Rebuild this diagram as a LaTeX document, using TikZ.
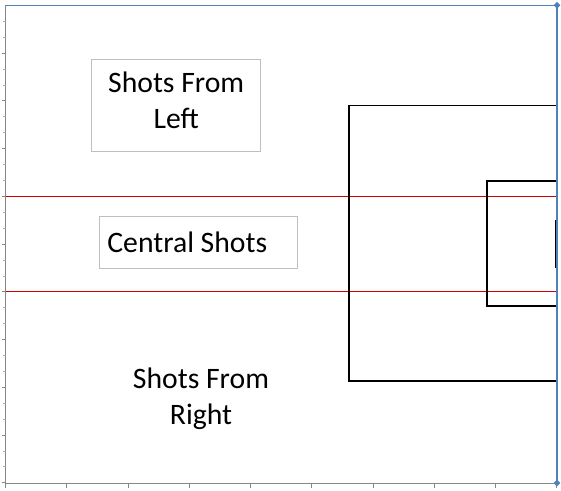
\documentclass[tikz,border=0pt]{standalone}
\usepackage{fontspec}
\setmainfont{Carlito}
\usepackage{tikz}
\usetikzlibrary{shapes.geometric}
\definecolor{axisgray}{HTML}{868686}
\definecolor{serieblue}{HTML}{4F81BD}
\definecolor{zonered}{HTML}{D00000}
\definecolor{boxgray}{HTML}{BFBFBF}
\tikzset{
  axisline/.style={draw=axisgray, line width=.9pt},
  minortic/.style={draw=axisgray!70, line width=.6pt},
  borderline/.style={draw=serieblue, line width=1.4pt},
  zoneline/.style={draw=zonered, line width=1.2pt},
  boxline/.style={draw=black, line width=2pt},
  goalline/.style={draw=black, line width=3pt},
  marker/.style={diamond, fill=serieblue, inner sep=0pt, minimum size=7pt},
  label/.style={font=\fontsize{29.8pt}{36pt}\selectfont, align=center, inner sep=0pt},
  textbox/.style={label, draw=boxgray, line width=.9pt}
}
\begin{document}
\begin{tikzpicture}[x=1bp,y=-1bp]
  \useasboundingbox (0,0) rectangle (561,491);

  % axes and ticks
  \draw[axisline] (5.5,5.3) -- (5.5,483) -- (557,483);
  \foreach \k in {1,...,10}
    \draw[axisline] (1.5,{5.3+47.74*\k}) -- (5.5,{5.3+47.74*\k});
  \foreach \k in {0,...,9} {
    \draw[minortic] (2.8,{5.3+47.74*\k+15.9}) -- (5.5,{5.3+47.74*\k+15.9});
    \draw[minortic] (2.8,{5.3+47.74*\k+31.8}) -- (5.5,{5.3+47.74*\k+31.8});
  }
  \foreach \k in {0,...,9}
    \draw[axisline] ({5.5+61.25*\k},483) -- ({5.5+61.25*\k},487.5);

  % zone lines
  \foreach \yy in {196.5,291.5}
    \draw[zoneline] (5.5,\yy) -- (557,\yy);

  % penalty area, goal area, goal
  \draw[boxline] (557,105.5) -- (348.5,105.5) -- (348.5,381) -- (557,381);
  \draw[boxline] (557,181) -- (486.8,181) -- (486.8,306) -- (557,306);
  \draw[goalline] (556.5,220) -- (556.5,268);

  % border series
  \draw[borderline] (5.5,5.3) -- (557,5.3) -- (557,483);
  \node[marker] (topcorner) at (557,5.3) {};
  \node[marker] (bottomcorner) at (557,483) {};

  % labels
  \node[textbox,minimum width=169bp,minimum height=92.4bp,text depth=11pt] (left) at (176.2,105.5)
    {Shots From\\Left};
  \node[textbox,align=flush left,text width=182bp,inner xsep=8bp,minimum height=52.3bp] (central) at (198.4,242.2)
    {Central Shots};
  \node[label,anchor=north] (right) at (201,368) {Shots From\\Right};
\end{tikzpicture}
\end{document}
